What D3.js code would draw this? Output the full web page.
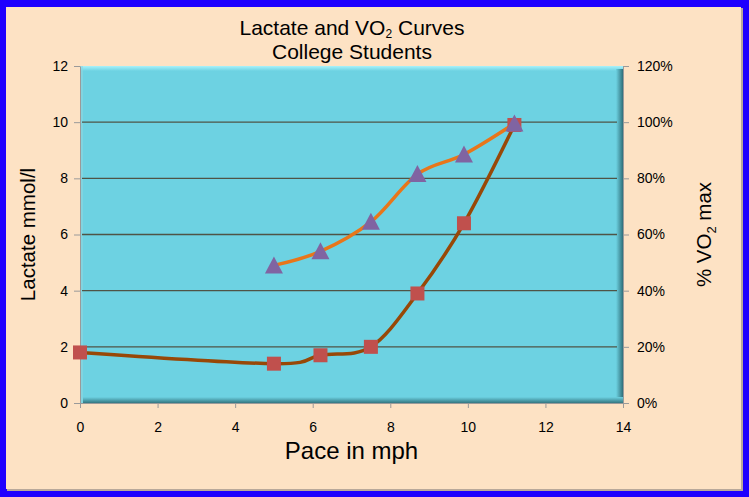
<!DOCTYPE html>
<html>
<head>
<meta charset="utf-8">
<script src="https://cdn.jsdelivr.net/npm/d3@7"></script>
<style>
  html, body { margin: 0; padding: 0; background: #1e00ff; }
  svg { display: block; font-family: "Liberation Sans", Arial, sans-serif; }
</style>
</head>
<body>
<div id="chart"></div>
<script>
// data
const lactatePace = [0, 5, 6.2, 7.5, 8.7, 9.9, 11.2];
const lactateValues = [1.8, 1.4, 1.7, 2.0, 3.9, 6.4, 9.9];
const vo2Pace = [5, 6.2, 7.5, 8.7, 9.9, 11.2];
const vo2Values = [0.49, 0.54, 0.645, 0.815, 0.885, 0.995];
const xTicks = [0, 2, 4, 6, 8, 10, 12, 14];
const yTicks = [0, 2, 4, 6, 8, 10, 12];
const y2Ticks = [0, 0.2, 0.4, 0.6, 0.8, 1.0, 1.2];

const width = 749, height = 497;
const margin = { top: 66, right: 126, bottom: 94, left: 80 };
const pw = width - margin.left - margin.right;
const ph = height - margin.top - margin.bottom;

const svg = d3.select("#chart").append("svg")
  .attr("width", width)
  .attr("height", height);

const defs = svg.append("defs");
// shadow strips of the bevelled plot area
const gr = defs.append("linearGradient").attr("id", "shadeR").attr("x1", 0).attr("x2", 1).attr("y1", 0).attr("y2", 0);
gr.append("stop").attr("offset", "0%").attr("stop-color", "#6dd2e2");
gr.append("stop").attr("offset", "100%").attr("stop-color", "#2f6f7a");
const gb = defs.append("linearGradient").attr("id", "shadeB").attr("x1", 0).attr("x2", 0).attr("y1", 0).attr("y2", 1);
gb.append("stop").attr("offset", "0%").attr("stop-color", "#6dd2e2");
gb.append("stop").attr("offset", "100%").attr("stop-color", "#347680");
const gt = defs.append("linearGradient").attr("id", "shadeT").attr("x1", 0).attr("x2", 0).attr("y1", 0).attr("y2", 1);
gt.append("stop").attr("offset", "0%").attr("stop-color", "#a8f2fb");
gt.append("stop").attr("offset", "100%").attr("stop-color", "#6dd2e2");

// peach background with a thin shadow
svg.append("rect").attr("x", 7).attr("y", 8).attr("width", 736).attr("height", 483).attr("fill", "#b8a89a");
svg.append("rect").attr("x", 6).attr("y", 7).attr("width", 735).attr("height", 482).attr("fill", "#fde2c4");

//scales
const x = d3.scaleLinear().domain([0, 14]).range([margin.left, margin.left + pw]);
const y = d3.scaleLinear().domain([0, 12]).range([margin.top + ph, margin.top]);
const y2 = d3.scaleLinear().domain([0, 1.2]).range([margin.top + ph, margin.top]);

//plot area
svg.append("rect")
  .attr("x", margin.left).attr("y", margin.top)
  .attr("width", pw).attr("height", ph)
  .attr("fill", "#6dd2e2");
svg.append("rect")
  .attr("x", margin.left).attr("y", margin.top)
  .attr("width", pw).attr("height", 5)
  .attr("fill", "url(#shadeT)");
svg.append("rect")
  .attr("x", margin.left + pw - 7).attr("y", margin.top + 3)
  .attr("width", 7).attr("height", ph - 3)
  .attr("fill", "url(#shadeR)");
svg.append("rect")
  .attr("x", margin.left + 3).attr("y", margin.top + ph - 6)
  .attr("width", pw - 3).attr("height", 6)
  .attr("fill", "url(#shadeB)");
svg.append("rect")
  .attr("x", margin.left).attr("y", margin.top)
  .attr("width", 3).attr("height", ph)
  .attr("fill", "#8fd6e0").attr("opacity", 0.6);

//gridlines
svg.append("g")
  .selectAll("line")
  .data(yTicks.filter(d => d > 0 && d < 12))
  .join("line")
  .attr("x1", margin.left + 2).attr("x2", margin.left + pw - 6)
  .attr("y1", d => y(d)).attr("y2", d => y(d))
  .attr("stroke", "#4f5446").attr("stroke-width", 1.3);

//axes
const axisStyle = g => {
  g.select(".domain").attr("stroke", "#9a9a9a");
  g.selectAll(".tick line").attr("stroke", "#9a9a9a");
  g.selectAll(".tick text").attr("fill", "#000").attr("font-size", 14)
    .attr("font-family", "Liberation Sans, Arial, sans-serif");
};

svg.append("g")
  .attr("transform", `translate(0,${margin.top + ph})`)
  .call(d3.axisBottom(x).tickValues(xTicks).tickSize(5).tickSizeOuter(0).tickPadding(14))
  .call(axisStyle);

svg.append("g")
  .attr("transform", `translate(${margin.left},0)`)
  .call(d3.axisLeft(y).tickValues(yTicks).tickSize(6).tickSizeOuter(0).tickPadding(6))
  .call(axisStyle);

svg.append("g")
  .attr("transform", `translate(${margin.left + pw},0)`)
  .call(d3.axisRight(y2).tickValues(y2Ticks).tickSize(6).tickSizeOuter(0).tickPadding(8)
    .tickFormat(d3.format(".0%")))
  .call(axisStyle);

//lines
const lactate = lactatePace.map((p, i) => ({ x: p, v: lactateValues[i] }));
const vo2 = vo2Pace.map((p, i) => ({ x: p, v: vo2Values[i] }));

svg.append("path")
  .datum(lactate)
  .attr("fill", "none")
  .attr("stroke", "#984807")
  .attr("stroke-width", 3.5)
  .attr("stroke-linejoin", "round")
  .attr("d", d3.line().x(d => x(d.x)).y(d => y(d.v)).curve(d3.curveCardinal.tension(0)));

svg.append("path")
  .datum(vo2)
  .attr("fill", "none")
  .attr("stroke", "#e8761a")
  .attr("stroke-width", 3.5)
  .attr("stroke-linejoin", "round")
  .attr("d", d3.line().x(d => x(d.x)).y(d => y2(d.v)).curve(d3.curveCardinal.tension(0)));

//markers
svg.append("g")
  .selectAll("rect")
  .data(lactate)
  .join("rect")
  .attr("x", d => x(d.x) - 7).attr("y", d => y(d.v) - 7)
  .attr("width", 14).attr("height", 14)
  .attr("fill", "#c0504d");

svg.append("g")
  .selectAll("path")
  .data(vo2)
  .join("path")
  .attr("transform", d => `translate(${x(d.x)},${y2(d.v) + 1})`)
  .attr("d", "M0,-10L9,7L-9,7Z")
  .attr("fill", "#8064a2");

//title
const title = svg.append("text")
  .attr("x", margin.left + pw / 2 + 0.5).attr("y", 35)
  .attr("text-anchor", "middle").attr("font-size", 21).attr("fill", "#000");
title.append("tspan").text("Lactate and VO");
title.append("tspan").text("2").attr("font-size", 12).attr("dy", 3);
title.append("tspan").text(" Curves").attr("dy", -3);

svg.append("text")
  .attr("x", margin.left + pw / 2 + 0.5).attr("y", 59)
  .attr("text-anchor", "middle").attr("font-size", 21).attr("fill", "#000")
  .text("College Students");

//axis titles
svg.append("text")
  .attr("x", margin.left + pw / 2).attr("y", 459)
  .attr("text-anchor", "middle").attr("font-size", 24).attr("fill", "#000")
  .text("Pace in mph");

svg.append("text")
  .attr("transform", `translate(35,${margin.top + ph / 2}) rotate(-90)`)
  .attr("text-anchor", "middle").attr("font-size", 20.5).attr("fill", "#000")
  .text("Lactate mmol/l");

const rt = svg.append("text")
  .attr("transform", `translate(711,${margin.top + ph / 2}) rotate(-90)`)
  .attr("text-anchor", "middle").attr("font-size", 20.5).attr("fill", "#000");
rt.append("tspan").text("% VO");
rt.append("tspan").text("2").attr("font-size", 13).attr("dy", 5);
rt.append("tspan").text(" max").attr("dy", -5);
</script>
</body>
</html>
